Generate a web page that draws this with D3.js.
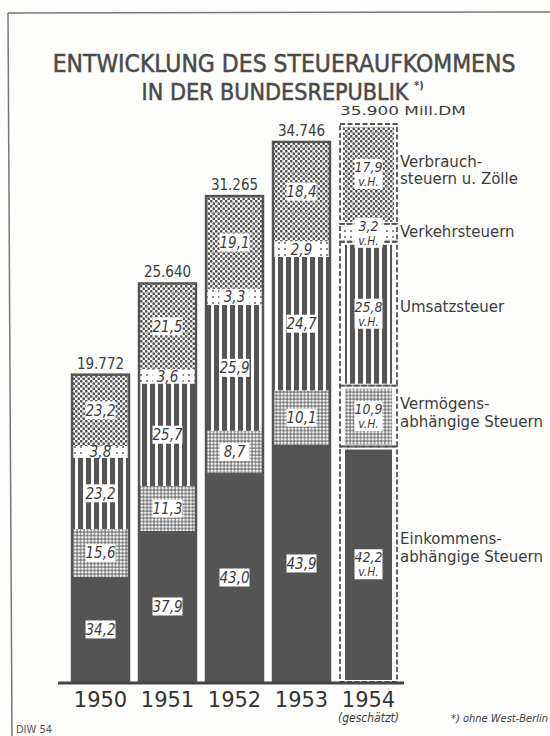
<!DOCTYPE html>
<html>
<head>
<meta charset="utf-8">
<script src="https://cdn.jsdelivr.net/npm/d3@7"></script>
<style>
  body { margin: 0; background: #fdfdfb; }
  text { font-family: "DejaVu Sans Condensed", "DejaVu Sans", sans-serif; fill: #3c3c3c; }
</style>
</head>
<body>
<div id="chart"></div>
<script>
// Steueraufkommen, Mill. DM, und Anteile in v.H. (von unten nach oben)
const years = ["1950", "1951", "1952", "1953", "1954"];
const totals = [19772, 25640, 31265, 34746, 35900];
const totalLabels = ["19.772", "25.640", "31.265", "34.746", "35.900 Mill.DM"];
const einkommen = [34.2, 37.9, 43.0, 43.9, 42.2];
const vermoegen = [15.6, 11.3, 8.7, 10.1, 10.9];
const umsatz    = [23.2, 25.7, 25.9, 24.7, 25.8];
const verkehr   = [3.8, 3.6, 3.3, 2.9, 3.2];
const verbrauch = [23.2, 21.5, 19.1, 18.4, 17.9];
const groupKeys = ["einkommen", "vermoegen", "umsatz", "verkehr", "verbrauch"];
const legendLines = [
  ["Einkommens-", "abhängige Steuern"],
  ["Vermögens-", "abhängige Steuern"],
  ["Umsatzsteuer"],
  ["Verkehrsteuern"],
  ["Verbrauch-", "steuern u. Zölle"]
];

const shares = [einkommen, vermoegen, umsatz, verkehr, verbrauch];
const W = 550, H = 736;
const dark = "#545454";

const svg = d3.select("#chart").append("svg")
    .attr("width", W).attr("height", H);

// Text horizontal auf eine Breite strecken
function fitWidth(sel, px, py, width, anchor) {
  const len = sel.node().getComputedTextLength();
  sel.attr("x", 0).attr("y", 0).attr("text-anchor", anchor)
    .attr("transform", `translate(${px},${py}) scale(${width / len},1)`);
}

// Muster
const defs = svg.append("defs");
let p = defs.append("pattern").attr("id", "p-verbrauch").attr("patternUnits", "userSpaceOnUse")
    .attr("width", 5).attr("height", 5);
p.append("rect").attr("width", 5).attr("height", 5).attr("fill", "#fff");
p.append("circle").attr("cx", 1.25).attr("cy", 1.25).attr("r", 1.4).attr("fill", dark);
p.append("circle").attr("cx", 3.75).attr("cy", 3.75).attr("r", 1.4).attr("fill", dark);

p = defs.append("pattern").attr("id", "p-verkehr").attr("patternUnits", "userSpaceOnUse")
    .attr("width", 6).attr("height", 6);
p.append("rect").attr("width", 6).attr("height", 6).attr("fill", "#fff");
p.append("circle").attr("cx", 3).attr("cy", 3).attr("r", 0.9).attr("fill", dark);

p = defs.append("pattern").attr("id", "p-umsatz").attr("patternUnits", "userSpaceOnUse")
    .attr("width", 8).attr("height", 8);
p.append("rect").attr("width", 8).attr("height", 8).attr("fill", dark);
p.append("rect").attr("x", 3).attr("width", 3).attr("height", 8).attr("fill", "#fff");

p = defs.append("pattern").attr("id", "p-vermoegen").attr("patternUnits", "userSpaceOnUse")
    .attr("width", 3.5).attr("height", 3.5);
p.append("rect").attr("width", 3.5).attr("height", 3.5).attr("fill", dark);
p.append("rect").attr("x", 0.5).attr("y", 0.5).attr("width", 2.6).attr("height", 2.6).attr("fill", "#fff");

const fills = {
  einkommen: dark,
  vermoegen: "url(#p-vermoegen)",
  umsatz: "url(#p-umsatz)",
  verkehr: "url(#p-verkehr)",
  verbrauch: "url(#p-verbrauch)"
};

// Rahmen
svg.append("line").attr("x1", 8).attr("y1", 13).attr("x2", 550).attr("y2", 12)
    .attr("stroke", "#777").attr("stroke-width", 1.5);
svg.append("line").attr("x1", 8).attr("y1", 13).attr("x2", 12).attr("y2", 736)
    .attr("stroke", "#777").attr("stroke-width", 1.5);

// Titel
const t1 = svg.append("text").attr("font-size", 24)
    .style("fill", "#4a4a4a").style("stroke", "#4a4a4a").style("stroke-width", 0.5)
    .text("ENTWICKLUNG DES STEUERAUFKOMMENS");
fitWidth(t1, 284, 72, 463, "middle");
const t2 = svg.append("text").attr("font-size", 23)
    .style("fill", "#4a4a4a").style("stroke", "#4a4a4a").style("stroke-width", 0.5)
    .text("IN DER BUNDESREPUBLIK");
fitWidth(t2, 275, 99.5, 267, "middle");
svg.append("text").attr("x", 414).attr("y", 89).attr("font-size", 11)
    .style("font-weight", "bold").style("fill", "#4a4a4a").text("*)");

const x = d3.scaleBand().domain(years).range([67, 402]).paddingInner(0.15).paddingOuter(0.075);
const y = d3.scaleLinear().domain([0, 35900]).range([682, 124]);

// Segmente berechnen
const bars = years.map((yr, i) => {
  let acc = 0;
  const segs = groupKeys.map((k, j) => {
    const v = totals[i] * shares[j][i] / 100;
    const s = { key: k, share: shares[j][i], y0: acc, y1: acc + v };
    acc += v;
    return s;
  });
  return { year: yr, i: i, total: totals[i], segs: segs };
});

const fmt = v => d3.format(".1f")(v).replace(".", ",");

bars.forEach(b => {
  const g = svg.append("g");
  const bx = x(b.year), bw = x.bandwidth();
  const est = b.i === 4;
  const inset = d => (d.key === "einkommen" || d.key === "umsatz" || d.key === "vermoegen") ? 5 : 3;

  g.selectAll("rect.seg").data(b.segs).enter().append("rect")
    .attr("class", "seg")
    .attr("x", d => est ? bx + inset(d) : bx)
    .attr("width", d => est ? bw - 2 * inset(d) : bw)
    .attr("y", d => y(d.y1) + (est ? 3 : 0))
    .attr("height", d => y(d.y0) - y(d.y1) - (est ? 5 : 0))
    .attr("fill", d => fills[d.key]);

  if (est) {
    g.selectAll("rect.dash").data(b.segs).enter().append("rect")
      .attr("x", bx).attr("width", bw)
      .attr("y", d => y(d.y1)).attr("height", d => y(d.y0) - y(d.y1))
      .attr("fill", "none").attr("stroke", dark).attr("stroke-width", 1.8)
      .attr("stroke-dasharray", "5,2.5");
  } else {
    g.append("rect").attr("x", bx).attr("width", bw)
      .attr("y", y(b.total)).attr("height", y(0) - y(b.total))
      .attr("fill", "none").attr("stroke", dark).attr("stroke-width", 2.5);
  }

  // Beschriftung der Anteile
  b.segs.forEach(d => {
    const cy = (y(d.y0) + y(d.y1)) / 2;
    const cx = bx + bw / 2;
    const segH = y(d.y0) - y(d.y1);
    if (est) {
      g.append("rect").attr("x", cx - 14).attr("y", cy - 15).attr("width", 28).attr("height", 30)
        .attr("fill", "#fff");
      g.append("text").attr("x", cx).attr("y", cy - 2).attr("text-anchor", "middle")
        .attr("font-size", 14).style("font-style", "italic").text(fmt(d.share));
      g.append("text").attr("x", cx).attr("y", cy + 12).attr("text-anchor", "middle")
        .attr("font-size", 12).style("font-style", "italic").text("v.H.");
    } else {
      const bh = Math.min(18, segH - 1);
      g.append("rect").attr("x", cx - 15).attr("y", cy - bh / 2).attr("width", 30).attr("height", bh)
        .attr("fill", "#fff");
      g.append("text").attr("x", cx).attr("y", cy + 5.5).attr("text-anchor", "middle")
        .attr("font-size", 15).style("font-style", "italic").text(fmt(d.share));
    }
  });

  // Summe
  const tl = svg.append("text")
    .attr("x", bx + bw / 2)
    .attr("y", y(b.total) - (est ? 9 : 6))
    .attr("text-anchor", "middle")
    .attr("font-size", est ? 12 : 15)
    .text(totalLabels[b.i]);
  if (est) fitWidth(tl, bx, y(b.total) - 9, 126, "start");

  // Jahr
  svg.append("text").attr("x", bx + bw / 2).attr("y", 707).attr("text-anchor", "middle")
    .attr("font-size", 21).style("font-family", "DejaVu Sans").style("fill", "#333")
    .text(b.year);
});

// Grundlinie
svg.append("line").attr("x1", 58).attr("x2", 404).attr("y1", 683).attr("y2", 683)
    .attr("stroke", "#444").attr("stroke-width", 3);

// Legende rechts neben 1954
const last = bars[4];
const legendShift = [-20, -7, -2, 4, -7];
last.segs.forEach((d, j) => {
  const mid = (y(d.y0) + y(d.y1)) / 2;
  legendLines[j].forEach((t, k) => {
    svg.append("text").attr("x", 400).attr("y", mid + legendShift[j] + k * 17.5)
      .attr("font-size", 15).style("font-family", "DejaVu Sans").text(t);
  });
});

svg.append("text").attr("x", x("1954") + x.bandwidth() / 2).attr("y", 722).attr("text-anchor", "middle")
    .attr("font-size", 12).style("font-style", "italic").text("(geschätzt)");
svg.append("text").attr("x", 451).attr("y", 722)
    .attr("font-size", 11).style("font-style", "italic").text("*) ohne West-Berlin");
svg.append("text").attr("x", 16).attr("y", 733)
    .attr("font-size", 11).style("fill", "#555").text("DIW 54");
</script>
</body>
</html>
